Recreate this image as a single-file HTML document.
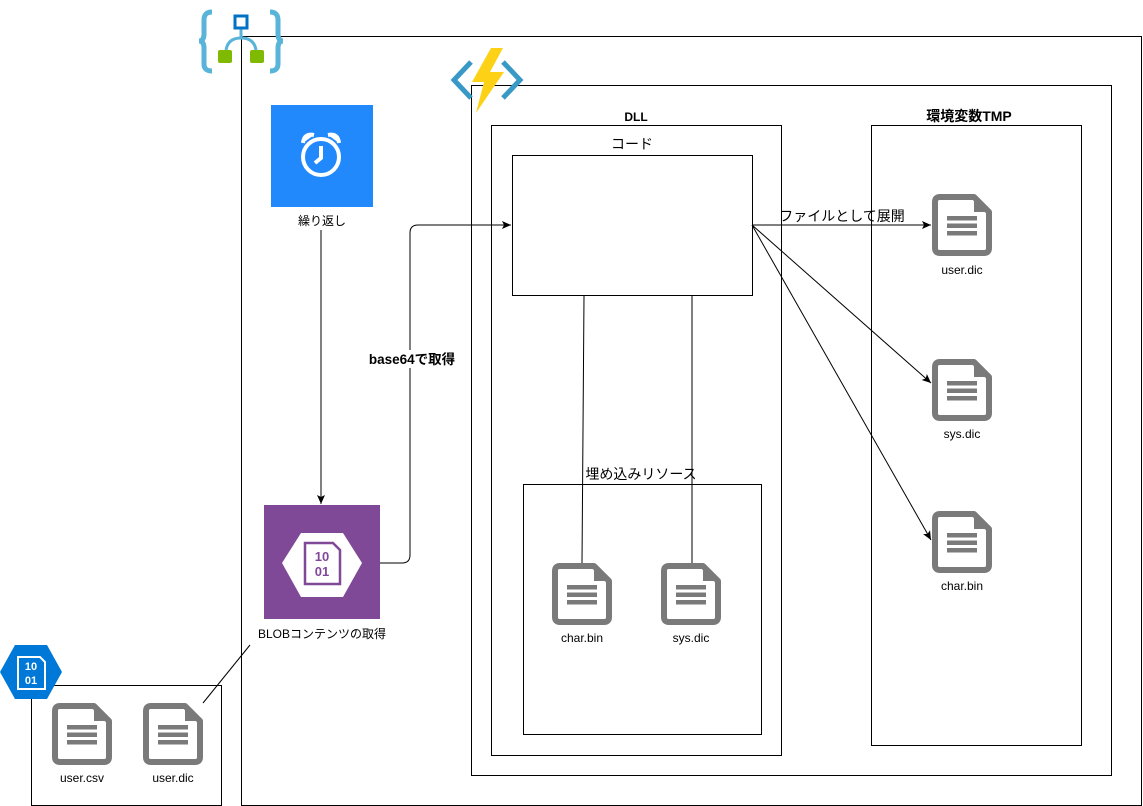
<!DOCTYPE html>
<html><head><meta charset="utf-8"><style>
html,body{margin:0;padding:0;background:#fff;}
svg{display:block;}
text{font-family:"Liberation Sans","Noto Sans CJK JP",sans-serif;font-size:12px;fill:#000;}
.b{font-weight:bold;}
.l{font-size:14px;}
</style></head><body>
<svg width="1143" height="806" viewBox="0 0 1143 806" xmlns="http://www.w3.org/2000/svg">
<defs>
<g id="doc">
<path d="M3,8 Q3,3 8,3 H42 L57,18 V54 Q57,59 52,59 H8 Q3,59 3,54 Z" fill="#fff" stroke="#7a7a7a" stroke-width="6" stroke-linejoin="round"/>
<path d="M42,3 L57,18 H42 Z" fill="#7a7a7a"/>
<rect x="15" y="22" width="30" height="4.5" fill="#7a7a7a"/>
<rect x="15" y="29.5" width="30" height="4.5" fill="#7a7a7a"/>
<rect x="15" y="37" width="30" height="4.5" fill="#7a7a7a"/>
</g>
<marker id="ar" markerWidth="10" markerHeight="8" refX="9" refY="4" orient="auto" markerUnits="userSpaceOnUse">
<path d="M0,0 L9,4 L0,8 L2,4 Z" fill="#000"/>
</marker>
</defs>
<g fill="none" stroke="#000" stroke-width="1">
<rect x="241.5" y="36.5" width="900" height="769"/>
<rect x="471.5" y="85.5" width="640" height="690"/>
<rect x="491.5" y="125.5" width="290" height="630"/>
<rect x="512.5" y="155.5" width="240" height="140"/>
<rect x="523.5" y="484.5" width="238" height="250"/>
<rect x="871.5" y="125.5" width="210" height="620"/>
<rect x="31.5" y="685.5" width="190" height="120"/>
</g>
<g>
<path d="M212,12 Q204,12 204,20 V34 Q204,41 199,41 Q204,41 204,48 V64 Q204,71 212,71" fill="none" stroke="#59b4d9" stroke-width="5"/>
<path d="M270,12 Q278,12 278,20 V34 Q278,41 283,41 Q278,41 278,48 V64 Q278,71 270,71" fill="none" stroke="#59b4d9" stroke-width="5"/>
<path d="M241,28 V38 M241,38 Q228,38 226,50 M241,38 Q254,38 256,50" fill="none" stroke="#59b4d9" stroke-width="3"/>
<rect x="235" y="16" width="12" height="12" fill="#fff" stroke="#0072c6" stroke-width="3"/>
<rect x="218" y="50" width="14" height="13" rx="2" fill="#7fba00"/>
<rect x="250" y="50" width="14" height="13" rx="2" fill="#7fba00"/>
</g>
<g>
<path d="M471,62 L454,80 L471,98" fill="none" stroke="#3999c6" stroke-width="5"/>
<path d="M503,62 L520,80 L503,98" fill="none" stroke="#3999c6" stroke-width="5"/>
<path d="M491,48 L503,48 L490,72 L504,72 L476,113 L484,82 L472,82 Z" fill="#fcd116"/>
</g>
<rect x="271" y="105" width="102" height="102" fill="#2289fc"/>
<g fill="none" stroke="#fff" stroke-width="4">
<circle cx="321" cy="157" r="18"/>
<path d="M321,146 V158 L315,163"/>
</g>
<path d="M303,143 Q304,133 314,135" fill="#fff" stroke="#fff" stroke-width="4"/>
<path d="M339,143 Q338,133 328,135" fill="#fff" stroke="#fff" stroke-width="4"/>
<text x="322" y="225" text-anchor="middle">繰り返し</text>
<rect x="264" y="505" width="116" height="114" fill="#804998"/>
<polygon points="282,563 301,533 343,533 362,563 343,597 301,597" fill="#fff"/>
<path d="M305,543 H333 L340,550 V584 H305 Z" fill="none" stroke="#804998" stroke-width="2.5"/>
<text x="322" y="561" text-anchor="middle" style="font-size:13px;font-weight:bold;fill:#804998">10</text>
<text x="322" y="576" text-anchor="middle" style="font-size:13px;font-weight:bold;fill:#804998">01</text>
<text x="322" y="638" text-anchor="middle">BLOBコンテンツの取得</text>
<polygon points="0,672 15,645 47,645 62,672 47,699 15,699" fill="#0078d7"/>
<path d="M18,657 H40 L45,662 V689 H18 Z" fill="none" stroke="#fff" stroke-width="2"/>
<text x="31" y="670" text-anchor="middle" style="font-size:11px;font-weight:bold;fill:#fff">10</text>
<text x="31" y="684" text-anchor="middle" style="font-size:11px;font-weight:bold;fill:#fff">01</text>
<use href="#doc" x="52" y="703"/>
<use href="#doc" x="143" y="703"/>
<text x="82" y="782" text-anchor="middle">user.csv</text>
<text x="173" y="782" text-anchor="middle">user.dic</text>
<use href="#doc" x="552" y="563"/>
<use href="#doc" x="661" y="563"/>
<text x="582" y="642" text-anchor="middle">char.bin</text>
<text x="691" y="642" text-anchor="middle">sys.dic</text>
<use href="#doc" x="932" y="194"/>
<use href="#doc" x="932" y="359"/>
<use href="#doc" x="932" y="511"/>
<text x="962" y="274" text-anchor="middle">user.dic</text>
<text x="962" y="438" text-anchor="middle">sys.dic</text>
<text x="962" y="590" text-anchor="middle">char.bin</text>
<text x="636" y="121" text-anchor="middle" class="b">DLL</text>
<text x="632" y="149" text-anchor="middle" class="l">コード</text>
<text x="641" y="479" text-anchor="middle" class="l">埋め込みリソース</text>
<text x="969" y="121" text-anchor="middle" class="b l">環境変数TMP</text>
<g fill="none" stroke="#000" stroke-width="1">
<line x1="321" y1="230" x2="321" y2="504" marker-end="url(#ar)"/>
<path d="M380,563 H402 Q410,563 410,555 V233 Q410,225 418,225 H511" marker-end="url(#ar)"/>
<line x1="752" y1="225" x2="931" y2="225" marker-end="url(#ar)"/>
<line x1="752" y1="225" x2="931" y2="383" marker-end="url(#ar)"/>
<line x1="752" y1="225" x2="931" y2="540" marker-end="url(#ar)"/>
<line x1="584" y1="296" x2="582" y2="563"/>
<line x1="692" y1="296" x2="692" y2="563"/>
<line x1="250" y1="645" x2="203" y2="703"/>
</g>
<rect x="366" y="350" width="92" height="18" fill="#fff"/>
<text x="412" y="364" text-anchor="middle" class="b" style="font-size:13.5px">base64で取得</text>
<text x="842" y="221" text-anchor="middle" class="l">ファイルとして展開</text>
</svg>
</body></html>
